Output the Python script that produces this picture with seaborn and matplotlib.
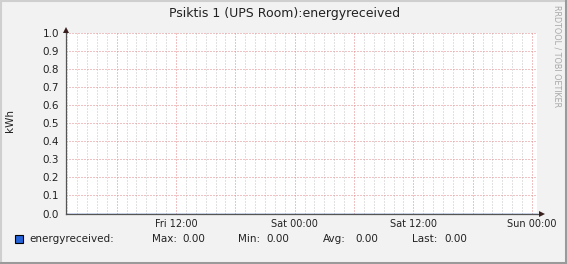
import matplotlib
matplotlib.use("Agg")
import matplotlib.pyplot as plt
import matplotlib.dates as mdates
from matplotlib.lines import Line2D
from matplotlib.patches import Rectangle
import seaborn as sns
import pandas as pd

# ---- data ----
times = ["2024-01-05 00:53", "2024-01-05 06:00", "2024-01-05 12:00", "2024-01-05 18:00",
         "2024-01-06 00:00", "2024-01-06 06:00", "2024-01-06 12:00", "2024-01-06 18:00",
         "2024-01-07 00:00", "2024-01-07 00:30"]
energyreceived = [0.0, 0.0, 0.0, 0.0, 0.0, 0.0, 0.0, 0.0, 0.0, 0.0]
x_start = "2024-01-05 00:53"
x_end = "2024-01-07 00:30"
y_ticks = [0.0, 0.1, 0.2, 0.3, 0.4, 0.5, 0.6, 0.7, 0.8, 0.9, 1.0]
title = "Psiktis 1 (UPS Room):energyreceived"
y_label = "kWh"
series_name = "energyreceived:"
stats = [("Max:", "0.00"), ("Min:", "0.00"), ("Avg:", "0.00"), ("Last:", "0.00")]
watermark = "RRDTOOL / TOBI OETIKER"

df = pd.DataFrame({"time": pd.to_datetime(times), "value": energyreceived})

sns.set_style("white")
plt.rcParams["font.family"] = ["DejaVu Sans"]

W, H = 567, 264
fig = plt.figure(figsize=(W / 100, H / 100), dpi=100)
fig.patch.set_facecolor("#F2F2F2")

def fx(px):
    return px / W

def fy(py):
    return 1 - py / H

L, R, T, B = 66, 537, 33, 213.5
ax = fig.add_axes([fx(L), fy(B), fx(R - L), (B - T) / H])
ax.set_facecolor("white")

sns.lineplot(data=df, x="time", y="value", ax=ax, color="#2563D9", linewidth=1, zorder=1)

ax.set_xlim(pd.Timestamp(x_start), pd.Timestamp(x_end))
ax.set_ylim(0, 1.0)
ax.set_xlabel("")
ax.set_ylabel("")

# grids
major_col = "#E08888"
minor_col = "#C4C4C4"
major_hours = [0, 6, 12, 18]
ax.xaxis.set_major_locator(mdates.HourLocator(byhour=major_hours))
ax.xaxis.set_minor_locator(mdates.HourLocator(byhour=[h for h in range(24) if h not in major_hours]))

def xfmt(v, pos):
    d = mdates.num2date(v)
    if d.hour in (0, 12):
        return d.strftime("%a %H:%M")
    return ""

ax.xaxis.set_major_formatter(plt.FuncFormatter(xfmt))
ax.set_yticks(y_ticks)
ax.yaxis.set_major_formatter(plt.FuncFormatter(lambda v, p: f"{v:.1f}"))

ax.grid(which="major", axis="both", color=major_col, linestyle=(0, (1, 2)), linewidth=0.72)
ax.grid(which="minor", axis="x", color=minor_col, linestyle=(0, (1, 2)), linewidth=0.72)
ax.set_axisbelow(True)

ax.tick_params(axis="x", which="major", length=2, width=0.72, color=major_col,
               labelsize=7, labelcolor="#222222", pad=2)
ax.tick_params(axis="x", which="minor", length=0)
ax.tick_params(axis="y", which="major", length=2, width=0.72, color="#555555",
               labelsize=7.5, labelcolor="#222222", pad=3)

fig.canvas.draw()
for axis in (ax.xaxis, ax.yaxis):
    for t in axis.get_major_ticks() + axis.get_minor_ticks():
        t.gridline.set_snap(True)

for s in ["top", "right"]:
    ax.spines[s].set_visible(False)
for s in ["left", "bottom"]:
    ax.spines[s].set_color("#555555")
    ax.spines[s].set_linewidth(0.9)
    ax.spines[s].set_zorder(3)

# arrows
ax.plot([0], [1.0 + 3 / (B - T)], transform=ax.transAxes, marker="^", markersize=5,
        color="#3A1F1F", clip_on=False, zorder=4, markeredgewidth=0)
ax.plot([1.0 + 5 / (R - L)], [0], transform=ax.transAxes, marker=">", markersize=5,
        color="#3A1F1F", clip_on=False, zorder=4, markeredgewidth=0)
ax.plot([1.0, 1.0 + 5 / (R - L)], [0, 0], transform=ax.transAxes, color="#555555",
        linewidth=0.9, clip_on=False, zorder=3)
ax.plot([0, 0], [1.0, 1.0 + 4 / (B - T)], transform=ax.transAxes, color="#555555",
        linewidth=0.9, clip_on=False, zorder=3)

# texts
fig.text(fx(285), fy(13), title, ha="center", va="center", fontsize=9, color="#222222")
fig.text(fx(10), fy(121), y_label, ha="center", va="center", rotation=90, fontsize=7.5,
         color="#222222")
fig.text(fx(557), fy(56), watermark, ha="center", va="center", rotation=270, fontsize=5.8,
         color="#A8A8A8")

# legend
fig.add_artist(Rectangle((fx(15), fy(243)), fx(8), 8 / H, transform=fig.transFigure,
                         facecolor="#2563D9", edgecolor="black", linewidth=0.8))
ly = fy(239.5)
fig.text(fx(29), ly, series_name, ha="left", va="center", fontsize=7.5, color="#222222")
label_x = [152, 238, 323, 412]
value_x = [182, 266, 355, 444]
for (lab, val), lx, vx in zip(stats, label_x, value_x):
    fig.text(fx(lx), ly, lab, ha="left", va="center", fontsize=7.5, color="#222222")
    fig.text(fx(vx), ly, val, ha="left", va="center", fontsize=7.5, color="#222222")

# border
fig.add_artist(Line2D([0, 1], [fy(0.5), fy(0.5)], transform=fig.transFigure,
                      color="#CFCFCF", linewidth=1.5))
fig.add_artist(Line2D([fx(0.5), fx(0.5)], [0, 1], transform=fig.transFigure,
                      color="#CFCFCF", linewidth=1.5))
fig.add_artist(Line2D([0, 1], [fy(262.5), fy(262.5)], transform=fig.transFigure,
                      color="#9A9A9A", linewidth=2.2))
fig.add_artist(Line2D([fx(565.5), fx(565.5)], [0, 1], transform=fig.transFigure,
                      color="#9A9A9A", linewidth=2.2))

fig.savefig("out.png", dpi=100, facecolor=fig.get_facecolor())
